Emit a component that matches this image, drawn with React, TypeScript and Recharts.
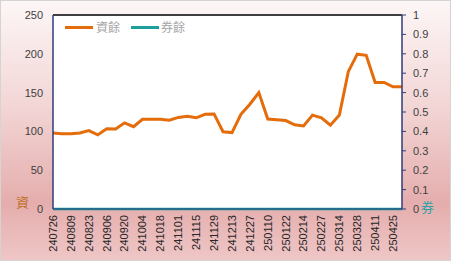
import type { ReactElement } from 'react';
import {
  CartesianGrid,
  Line,
  LineChart,
  ReferenceLine,
  XAxis,
  YAxis,
} from 'recharts';

const DATES = [
  '240726', '240802', '240809', '240816', '240823', '240830', '240906', '240913',
  '240920', '240927', '241004', '241011', '241018', '241025', '241101', '241108',
  '241115', '241122', '241129', '241206', '241213', '241220', '241227', '250103',
  '250110', '250117', '250122', '250207', '250214', '250221', '250227', '250307',
  '250314', '250321', '250328', '250402', '250411', '250418', '250425', '250502',
];

// 資餘 (left axis)
const ZI_YU = [
  98, 97, 97, 98, 101, 95.5, 103.5, 103, 111, 106, 115.5, 115.5, 115.5, 114.5,
  118, 119.5, 117.5, 122, 122.5, 99.5, 98.5, 122, 135, 150, 116, 115, 114,
  108.5, 107, 121, 117.5, 108, 121, 177, 199.5, 198, 163, 163, 157.5, 157.5,
];

// 券餘 (right axis)
const QUAN_YU = [
  0, 0, 0, 0, 0, 0, 0, 0, 0, 0, 0, 0, 0, 0, 0, 0, 0, 0, 0, 0,
  0, 0, 0, 0, 0, 0, 0, 0, 0, 0, 0, 0, 0, 0, 0, 0, 0, 0, 0, 0,
];

const LEFT_TICKS = [0, 50, 100, 150, 200, 250];
const RIGHT_TICKS = [0, 0.1, 0.2, 0.3, 0.4, 0.5, 0.6, 0.7, 0.8, 0.9, 1];

const COLORS = {
  zi: '#E46C0A',
  quan: '#1F9E9E',
  axis: '#2F3B78',
  text: '#404040',
};

const data = DATES.map((d, i) => ({ date: d, zi: ZI_YU[i], quan: QUAN_YU[i] }));

const FONT = '"Liberation Sans", Arial, sans-serif';
const CJK = '"Noto Sans CJK TC", "Noto Sans CJK SC", sans-serif';

function DateTick(props: any): ReactElement {
  const { x, y, payload } = props;
  return (
    <text
      x={0}
      y={0}
      dy="0.35em"
      transform={`translate(${x},${y + 6}) rotate(-90)`}
      textAnchor="end"
      fontSize={11}
      fontFamily={FONT}
      fill="#262626"
    >
      {payload.value}
    </text>
  );
}

export default function App(): ReactElement {
  return (
    <div
      style={{
        position: 'absolute',
        left: 0,
        top: 0,
        width: 449,
        height: 259,
        border: '1px solid #d4d4d4',
        background:
          'linear-gradient(to bottom, #fdf6f6 0%, #f3d6d6 40%, #e5adad 78%, #efc6c6 100%)',
      }}
    >
      <div style={{ position: 'absolute', left: -1, top: -1 }}>
        <LineChart
          width={451}
          height={261}
          data={data}
          margin={{ top: 15, right: 0, bottom: 0, left: 0 }}
        >
          <CartesianGrid horizontal={false} vertical={false} fill="#ffffff" />
          <XAxis
            dataKey="date"
            interval={1}
            height={52}
            tickLine={false}
            tickSize={0}
            tickMargin={0}
            axisLine={{ stroke: COLORS.axis }}
            tick={<DateTick />}
          />
          <YAxis
            yAxisId="left"
            domain={[0, 250]}
            ticks={LEFT_TICKS}
            width={53}
            tickLine={false}
            tickSize={0}
            tickMargin={10}
            axisLine={{ stroke: COLORS.axis, strokeWidth: 1.5 }}
            tick={{ fontSize: 11, fill: COLORS.text, fontFamily: FONT }}
          />
          <YAxis
            yAxisId="right"
            orientation="right"
            domain={[0, 1]}
            ticks={RIGHT_TICKS}
            width={49}
            tickSize={4}
            tickMargin={7}
            tickLine={{ stroke: COLORS.axis }}
            axisLine={{ stroke: COLORS.axis, strokeWidth: 1.5 }}
            tick={{ fontSize: 11, fill: COLORS.text, fontFamily: FONT }}
          />
          <ReferenceLine yAxisId="left" y={250} stroke="#000000" strokeWidth={1.5} />
          <Line
            yAxisId="right"
            dataKey="quan"
            stroke={COLORS.quan}
            strokeWidth={2.5}
            dot={false}
            isAnimationActive={false}
          />
          <Line
            yAxisId="left"
            dataKey="zi"
            stroke={COLORS.zi}
            strokeWidth={3}
            dot={false}
            isAnimationActive={false}
          />
        </LineChart>
      </div>

      {/* legend */}
      <div
        style={{
          position: 'absolute',
          left: 64,
          top: 18,
          display: 'flex',
          alignItems: 'center',
          fontFamily: CJK,
          fontSize: 12,
          color: '#a6a6a6',
          lineHeight: '16px',
        }}
      >
        <span style={{ width: 28, height: 3, background: COLORS.zi, marginRight: 3 }} />
        <span>資餘</span>
        <span
          style={{ width: 28, height: 3, background: COLORS.quan, marginLeft: 11, marginRight: 2 }}
        />
        <span>券餘</span>
      </div>

      {/* axis titles */}
      <div
        style={{
          position: 'absolute',
          left: 15,
          top: 191,
          fontFamily: CJK,
          fontSize: 13,
          color: '#C0722E',
        }}
      >
        資
      </div>
      <div
        style={{
          position: 'absolute',
          left: 420,
          top: 196,
          fontFamily: CJK,
          fontSize: 13,
          color: '#2AA3A3',
        }}
      >
        券
      </div>
    </div>
  );
}
